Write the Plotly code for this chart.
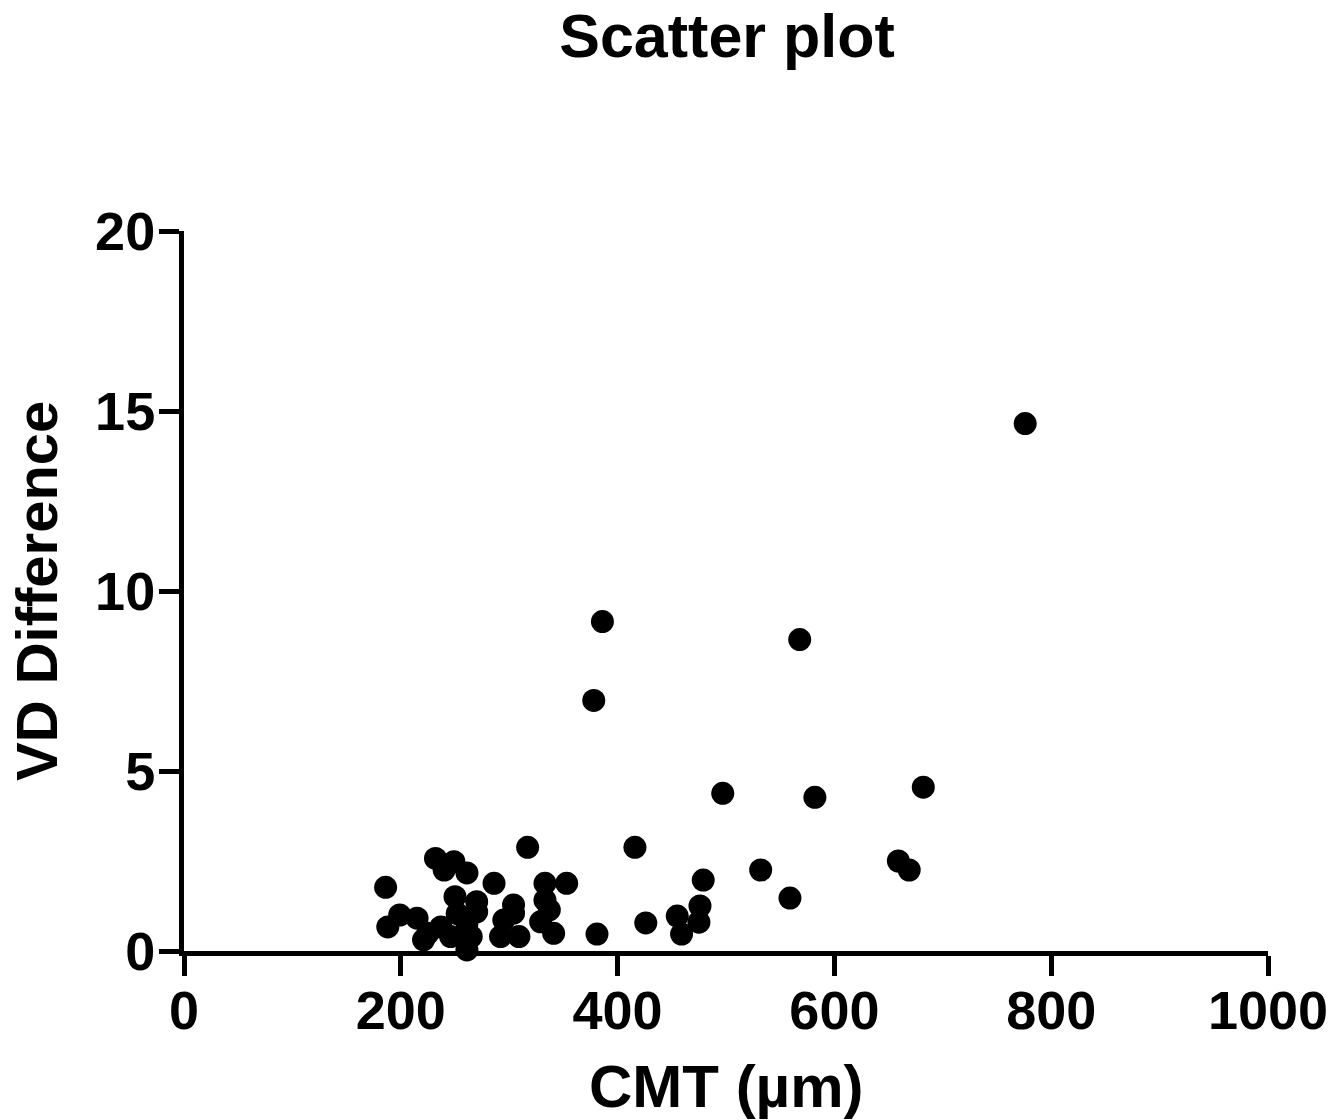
import plotly.graph_objects as go

cmt = [776, 386, 568, 378, 497, 582, 682, 659, 669, 532, 559, 416, 317, 426, 381,
       455, 459, 475, 476, 479,
       186, 232, 249, 240, 261, 286, 333, 353, 250, 270, 304, 333, 337, 199, 188,
       215, 225, 237, 252, 261, 270, 265, 261, 246, 295, 304, 292, 309, 329, 341, 221]
vd = [14.65, 9.15, 8.65, 6.96, 4.38, 4.27, 4.55, 2.50, 2.25, 2.25, 1.47, 2.88, 2.88, 0.78, 0.47,
      0.97, 0.47, 0.80, 1.25, 1.97,
      1.77, 2.57, 2.48, 2.25, 2.17, 1.88, 1.88, 1.88, 1.51, 1.37, 1.28, 1.41, 1.14, 1.00, 0.67,
      0.91, 0.49, 0.67, 1.04, 0.77, 1.09, 0.40, 0.03, 0.40, 0.86, 1.05, 0.40, 0.40, 0.81, 0.49, 0.31]

x_ticks = [0, 200, 400, 600, 800, 1000]
y_ticks = [0, 5, 10, 15, 20]

FONT = "Arial, Liberation Sans, sans-serif"

W, H = 1341, 1120
L, R, T, B = 184, 1268, 231, 951
PW, PH = R - L, B - T

fig = go.Figure()
fig.add_trace(go.Scatter(
    x=cmt, y=vd, mode="markers",
    marker=dict(color="black", size=23, line=dict(width=0)),
    cliponaxis=False, showlegend=False,
))

axis_common = dict(
    showgrid=False, zeroline=False, showline=True, linecolor="black", linewidth=5,
    ticks="outside", ticklen=20, tickwidth=5, tickcolor="black",
    tickfont=dict(family=FONT, size=54, color="black", weight="bold"),
)

fig.update_layout(
    width=W, height=H,
    margin=dict(l=L, r=W - R, t=T, b=H - B, autoexpand=False),
    paper_bgcolor="white", plot_bgcolor="white",
    title=dict(text="<b>Scatter plot</b>", x=727 / W, xanchor="center",
               y=1 - 14 / H, yanchor="top", yref="container",
               font=dict(family=FONT, size=61, color="black")),
    xaxis=dict(range=[0, 1000], tickvals=x_ticks, ticklabelstandoff=-12, **axis_common),
    yaxis=dict(range=[0, 20], tickvals=y_ticks, ticklabelstandoff=-7, **axis_common),
    annotations=[
        dict(text="<b>CMT (µm)</b>", xref="paper", yref="paper", x=0.5,
             y=-(1086 - B) / PH, xanchor="center", yanchor="middle",
             showarrow=False, font=dict(family=FONT, size=60, color="black")),
        dict(text="<b>VD Difference</b>", xref="paper", yref="paper",
             x=(36 - L) / PW, y=0.5, xanchor="center", yanchor="middle",
             textangle=-90, showarrow=False,
             font=dict(family=FONT, size=58, color="black")),
    ],
)

fig.write_html("out.html", config={"displayModeBar": False},
               post_script="document.body.style.margin='0';")
